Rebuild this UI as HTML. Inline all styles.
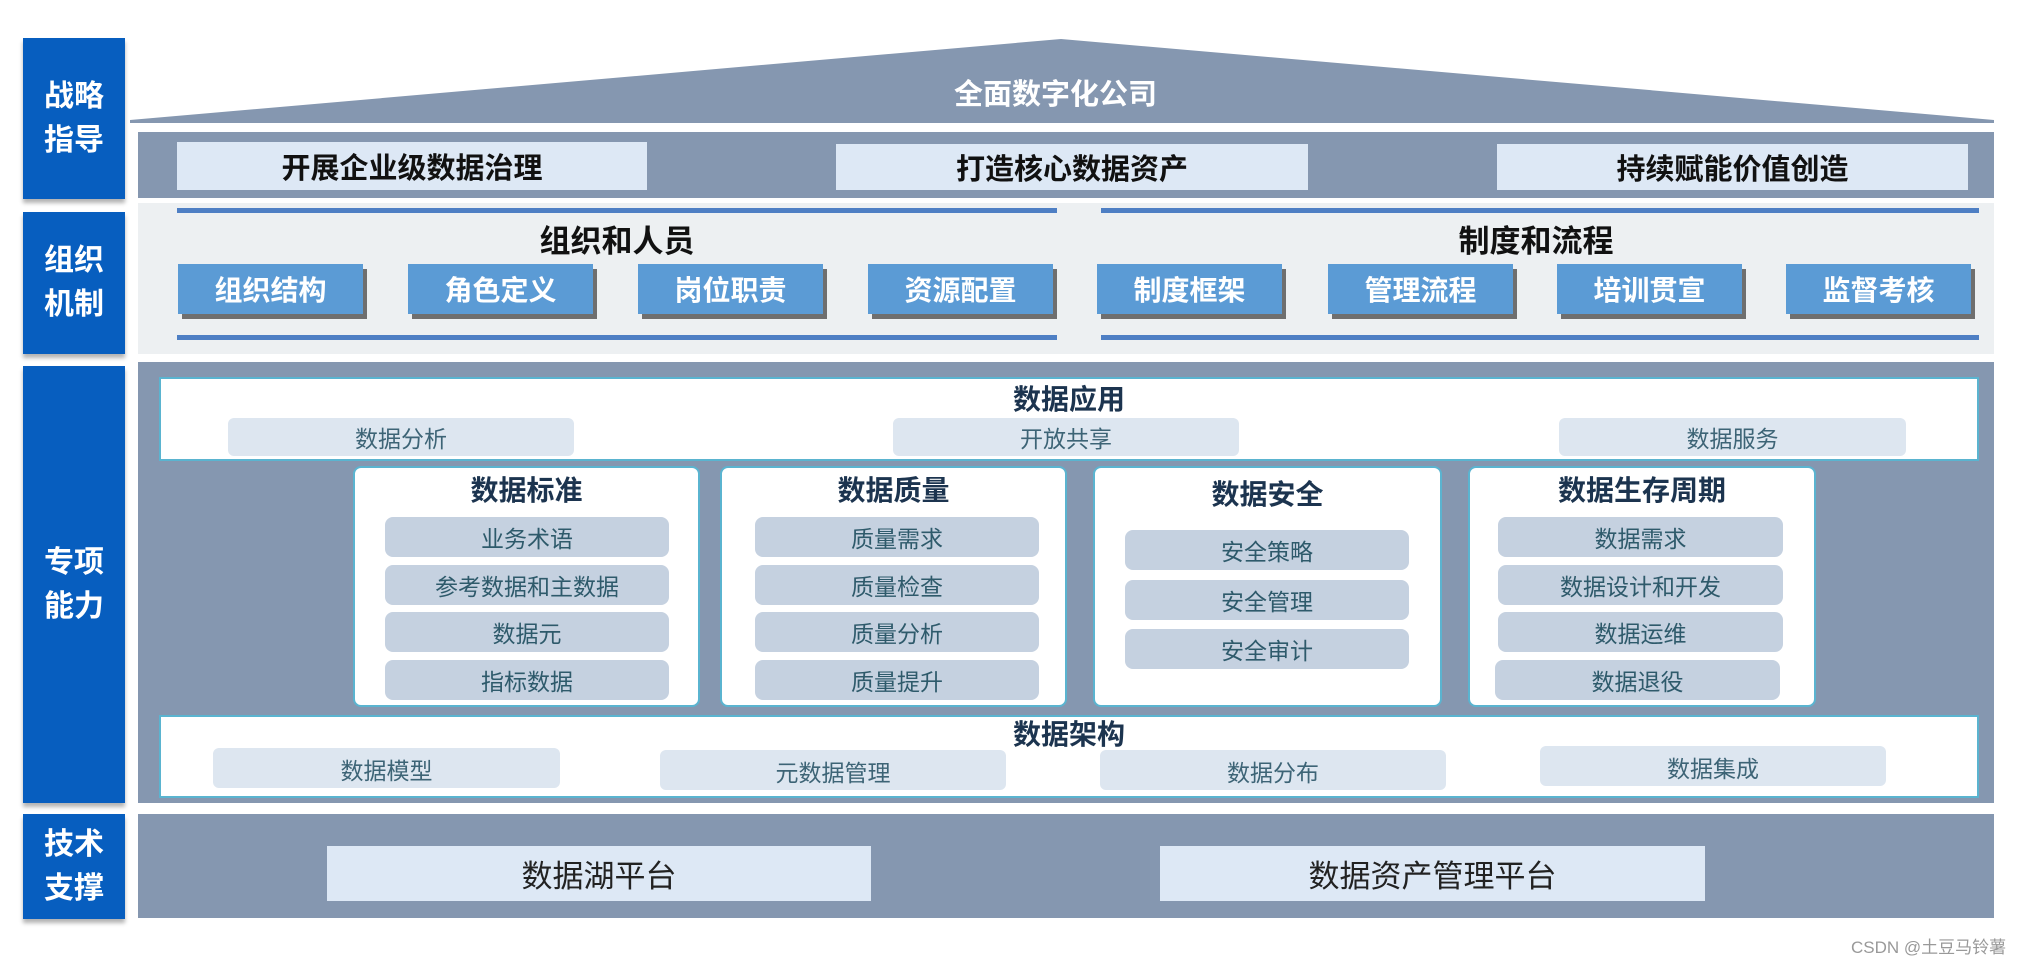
<!DOCTYPE html>
<html><head><meta charset="utf-8"><style>
body{margin:0;width:2041px;height:965px;background:#fff;position:relative;overflow:hidden;font-family:"Liberation Sans","Noto Sans CJK SC",sans-serif}
div{position:absolute;box-sizing:border-box}
.side{left:23px;width:102px;background:#075ebf;color:#fff;font-weight:bold;font-size:30px;line-height:44px;display:flex;align-items:center;justify-content:center;text-align:center;box-shadow:0 4px 4px rgba(0,0,0,.3)}
.band{left:138px;width:1856px;background:#8597b0}
.lb{background:#dde8f5;display:flex;align-items:center;justify-content:center;font-size:29px;font-weight:bold;color:#111}
.bb{top:264px;height:50px;width:185px;background:#5b9bd5;color:#fff;font-weight:bold;font-size:28px;display:flex;align-items:center;justify-content:center;box-shadow:4px 5px 0 #6f6f6f}
.line{height:5px;background:#4e7fc4}
.h{font-weight:bold;font-size:31px;color:#111;text-align:center}
.wb{background:#fff;border:2px solid #5ab4d0}
.card{background:#fff;border:2px solid #5ab4d0;border-radius:8px}
.t{font-weight:bold;font-size:28px;color:#1c344f;text-align:center;width:100%;left:0}
.sb{background:#dde6f0;border-radius:6px;color:#3d6476;font-size:23px;display:flex;align-items:flex-end;justify-content:center;padding-bottom:2px}
.it{background:#c5d1e0;border-radius:8px;color:#2e5a6b;font-size:23px;display:flex;align-items:center;justify-content:center;height:40px}
</style></head><body>
<div class="side" style="top:38px;height:161px">战略<br>指导</div>
<div class="side" style="top:212px;height:142px">组织<br>机制</div>
<div class="side" style="top:366px;height:437px">专项<br>能力</div>
<div class="side" style="top:814px;height:105px">技术<br>支撑</div>

<svg style="position:absolute;left:0;top:0" width="2041" height="130"><polygon points="130,120 1061,39 1994,120 1994,123 130,123" fill="#8597b0"/></svg>
<div style="left:0;width:2041px;top:71px;text-align:center;color:#fff;font-weight:bold;font-size:29px;padding-left:70px">全面数字化公司</div>

<div class="band" style="top:132px;height:66px"></div>
<div class="lb" style="left:177px;top:142px;width:470px;height:48px">开展企业级数据治理</div>
<div class="lb" style="left:836px;top:144px;width:472px;height:46px">打造核心数据资产</div>
<div class="lb" style="left:1497px;top:144px;width:471px;height:46px">持续赋能价值创造</div>

<div style="left:138px;top:203px;width:1856px;height:151px;background:#edf0f2"></div>
<div class="line" style="left:177px;top:208px;width:880px"></div>
<div class="line" style="left:177px;top:335px;width:880px"></div>
<div class="line" style="left:1101px;top:208px;width:878px"></div>
<div class="line" style="left:1101px;top:335px;width:878px"></div>
<div class="h" style="left:417px;width:400px;top:216px">组织和人员</div>
<div class="h" style="left:1336px;width:400px;top:216px">制度和流程</div>
<div class="bb" style="left:178px">组织结构</div>
<div class="bb" style="left:408px">角色定义</div>
<div class="bb" style="left:638px">岗位职责</div>
<div class="bb" style="left:868px">资源配置</div>
<div class="bb" style="left:1097px">制度框架</div>
<div class="bb" style="left:1328px">管理流程</div>
<div class="bb" style="left:1557px">培训贯宣</div>
<div class="bb" style="left:1786px">监督考核</div>

<div class="band" style="top:362px;height:441px"></div>
<div class="wb" style="left:159px;top:377px;width:1820px;height:84px"><div class="t" style="top:-1px">数据应用</div></div>
<div class="sb" style="left:228px;top:418px;width:346px;height:38px">数据分析</div>
<div class="sb" style="left:893px;top:418px;width:346px;height:38px">开放共享</div>
<div class="sb" style="left:1559px;top:418px;width:347px;height:38px">数据服务</div>

<div class="card" style="left:353px;top:466px;width:347px;height:241px"><div class="t" style="top:1px">数据标准</div></div>
<div class="card" style="left:720px;top:466px;width:347px;height:241px"><div class="t" style="top:1px">数据质量</div></div>
<div class="card" style="left:1093px;top:466px;width:349px;height:241px"><div class="t" style="top:5px">数据安全</div></div>
<div class="card" style="left:1468px;top:466px;width:348px;height:241px"><div class="t" style="top:1px">数据生存周期</div></div>

<div class="it" style="left:385px;top:517px;width:284px">业务术语</div>
<div class="it" style="left:385px;top:565px;width:284px">参考数据和主数据</div>
<div class="it" style="left:385px;top:612px;width:284px">数据元</div>
<div class="it" style="left:385px;top:660px;width:284px">指标数据</div>
<div class="it" style="left:755px;top:517px;width:284px">质量需求</div>
<div class="it" style="left:755px;top:565px;width:284px">质量检查</div>
<div class="it" style="left:755px;top:612px;width:284px">质量分析</div>
<div class="it" style="left:755px;top:660px;width:284px">质量提升</div>
<div class="it" style="left:1125px;top:530px;width:284px">安全策略</div>
<div class="it" style="left:1125px;top:580px;width:284px">安全管理</div>
<div class="it" style="left:1125px;top:629px;width:284px">安全审计</div>
<div class="it" style="left:1498px;top:517px;width:285px">数据需求</div>
<div class="it" style="left:1498px;top:565px;width:285px">数据设计和开发</div>
<div class="it" style="left:1498px;top:612px;width:285px">数据运维</div>
<div class="it" style="left:1495px;top:660px;width:285px">数据退役</div>

<div class="wb" style="left:159px;top:715px;width:1820px;height:83px"><div class="t" style="top:-4px">数据架构</div></div>
<div class="sb" style="left:213px;top:748px;width:347px;height:40px">数据模型</div>
<div class="sb" style="left:660px;top:750px;width:346px;height:40px">元数据管理</div>
<div class="sb" style="left:1100px;top:750px;width:346px;height:40px">数据分布</div>
<div class="sb" style="left:1540px;top:746px;width:346px;height:40px">数据集成</div>

<div class="band" style="top:814px;height:104px"></div>
<div class="lb" style="left:327px;top:846px;width:544px;height:55px;font-weight:normal;font-size:31px;color:#222">数据湖平台</div>
<div class="lb" style="left:1160px;top:846px;width:545px;height:55px;font-weight:normal;font-size:31px;color:#222">数据资产管理平台</div>

<div style="left:1851px;top:933px;font-size:17px;color:#999">CSDN @土豆马铃薯</div>
</body></html>
